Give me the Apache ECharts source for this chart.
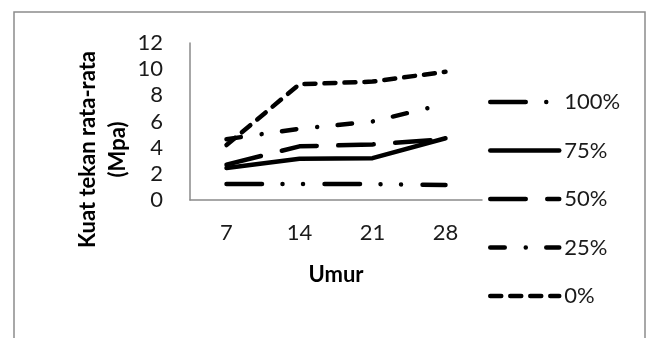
<!DOCTYPE html>
<html>
<head>
<meta charset="utf-8">
<script src="https://cdn.jsdelivr.net/npm/echarts@6/dist/echarts.min.js"></script>
<style>
html,body{margin:0;padding:0;background:#fff;}
#c{width:648px;height:338px;}
</style>
</head>
<body>
<div id="c"></div>
<script>
var categories = ['7', '14', '21', '28'];
var seriesNames = ['0%', '25%', '50%', '75%', '100%'];
var s0 = [4.2, 8.85, 9.05, 9.8];
var s25 = [4.65, 5.45, 6.0, 7.35];
var s50 = [2.7, 4.1, 4.25, 4.65];
var s75 = [2.45, 3.15, 3.2, 4.72];
var s100 = [1.22, 1.22, 1.22, 1.15];
var yTicks = { min: 0, max: 12, interval: 2 };
var legendOrder = ['100%', '75%', '50%', '25%', '0%'];
var yTitle = 'Kuat tekan rata-rata\n(Mpa)';

var FONT = 'Lato';
var values = [s0, s25, s50, s75, s100];
var dashes = [[11, 9], [14.5, 21, 0.01, 20.5], [35.5, 21.5], 'solid', [35.5, 20.5, 0.01, 20.5, 0.01, 21.5]];

function styleFor(name) {
  var i = seriesNames.indexOf(name);
  return { color: '#000', width: 4.5, type: dashes[i], cap: 'round', join: 'round', opacity: 1 };
}

var chart = echarts.init(document.getElementById('c'));
chart.setOption({
  animation: false,
  backgroundColor: '#fff',
  grid: { left: 190, top: 43, width: 292, height: 157, containLabel: false, outerBoundsMode: 'none' },
  xAxis: {
    type: 'category',
    data: categories,
    boundaryGap: true,
    name: 'Umur',
    nameLocation: 'middle',
    nameGap: 64,
    nameTextStyle: { fontFamily: FONT, fontSize: 22, fontWeight: 'bold', color: '#000', lineHeight: 22 },
    axisLine: { show: true, lineStyle: { color: '#8a8a8a', width: 1.5 } },
    axisTick: { show: false },
    axisLabel: { fontFamily: FONT, fontSize: 22, color: '#1a1a1a', margin: 22, lineHeight: 22 },
    splitLine: { show: false }
  },
  yAxis: {
    type: 'value',
    min: yTicks.min, max: yTicks.max, interval: yTicks.interval,
    name: yTitle,
    nameLocation: 'middle',
    nameRotate: 90,
    nameGap: 57,
    nameTextStyle: { fontFamily: FONT, fontSize: 22, fontWeight: 'bold', color: '#000', lineHeight: 30, align: 'center', padding: [0, 56, 0, 0] },
    axisLine: { show: true, lineStyle: { color: '#8a8a8a', width: 1.5 } },
    axisTick: { show: false },
    axisLabel: { fontFamily: FONT, fontSize: 22, color: '#1a1a1a', margin: 27 },
    splitLine: { show: false }
  },
  legend: {
    orient: 'vertical',
    left: 483,
    top: 85,
    itemWidth: 69,
    itemHeight: 14,
    itemGap: 24.5,
    itemStyle: { color: 'rgba(0,0,0,0)', borderColor: 'rgba(0,0,0,0)', borderWidth: 0 },
    data: legendOrder.map(function (n) {
      return { name: n, lineStyle: styleFor(n), itemStyle: { color: 'rgba(0,0,0,0)', borderColor: 'rgba(0,0,0,0)', borderWidth: 0 } };
    }),
    textStyle: { fontFamily: FONT, fontSize: 22, color: '#1a1a1a', lineHeight: 24 }
  },
  series: seriesNames.map(function (n, i) {
    return {
      name: n,
      type: 'line',
      data: values[i],
      symbol: 'none',
      lineStyle: styleFor(n),
      itemStyle: { color: '#000' }
    };
  }),
  graphic: [
    { type: 'rect', shape: { x: 14, y: 12, width: 631, height: 340 }, style: { fill: 'none', stroke: '#8c8c8c', lineWidth: 1.5 }, silent: true }
  ]
});
</script>
</body>
</html>
